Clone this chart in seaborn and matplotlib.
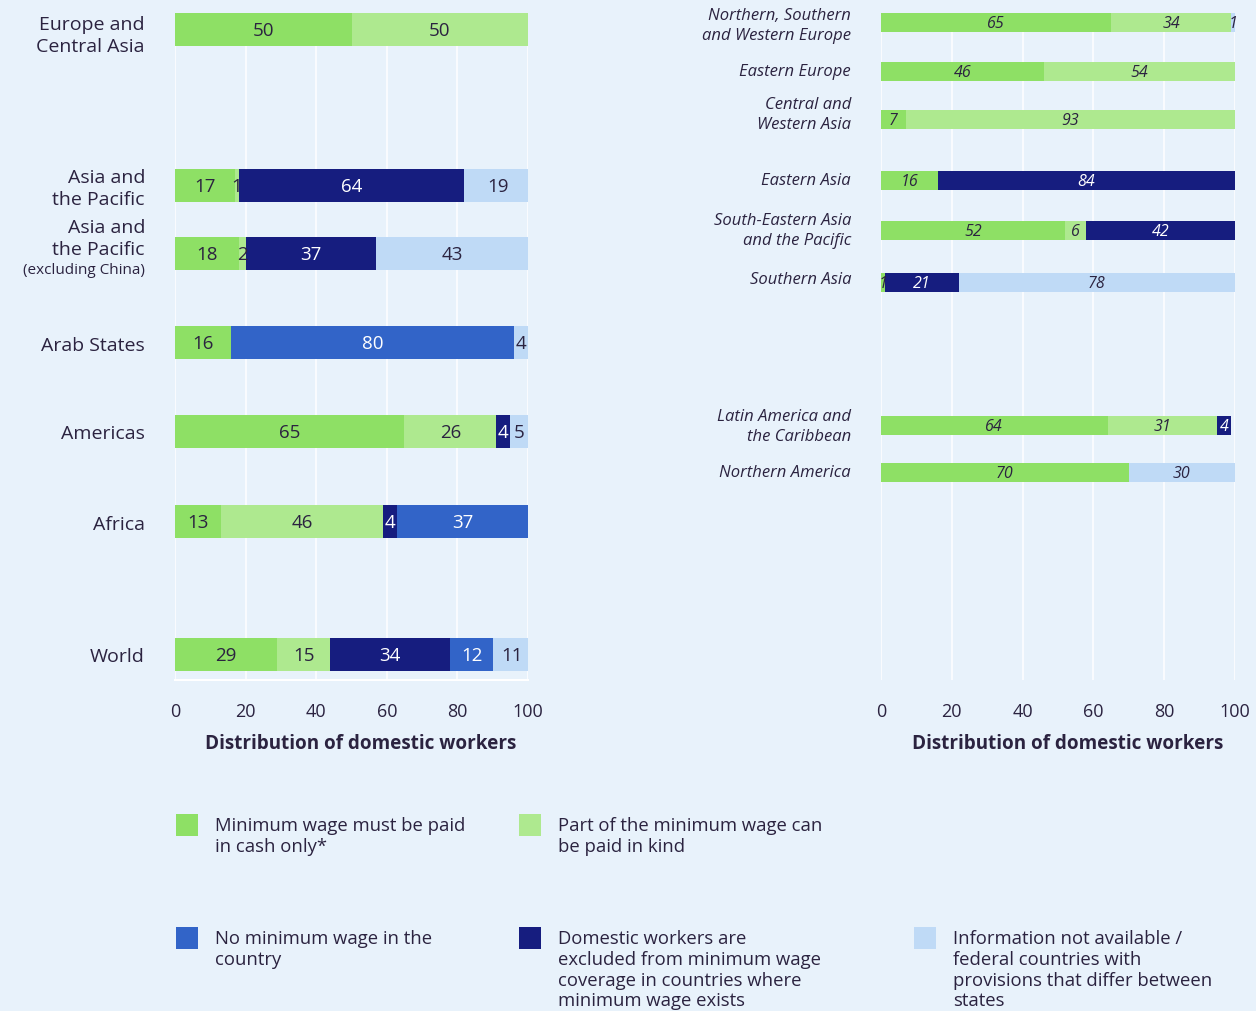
import numpy as np
import pandas as pd
import matplotlib.pyplot as plt
import matplotlib.transforms as mtransforms
from matplotlib.patches import Rectangle
import seaborn as sns

###############################################################################
# data

left_regions = ['Europe and\nCentral Asia', 'Asia and\nthe Pacific', 'Asia and\nthe Pacific',
                'Arab States', 'Americas', 'Africa', 'World']
left_cash_only      = [50, 17, 18, 16, 65, 13, 29]
left_in_kind        = [50,  1,  2,  0, 26, 46, 15]
left_excluded       = [ 0, 64, 37,  0,  4,  4, 34]
left_no_min_wage    = [ 0,  0,  0, 80,  0, 37, 12]
left_not_available  = [ 0, 19, 43,  4,  5,  0, 11]

right_regions = ['Northern, Southern\nand Western Europe', 'Eastern Europe', 'Central and\nWestern Asia',
                 'Eastern Asia', 'South-Eastern Asia\nand the Pacific', 'Southern Asia',
                 'Latin America and\nthe Caribbean', 'Northern America']
right_cash_only     = [65, 46,  7, 16, 52,  1, 64, 70]
right_in_kind       = [34, 54, 93,  0,  6,  0, 31,  0]
right_excluded      = [ 0,  0,  0, 84, 42, 21,  4,  0]
right_no_min_wage   = [ 0,  0,  0,  0,  0,  0,  0,  0]
right_not_available = [ 1,  0,  0,  0,  0, 78,  0, 30]

legend_labels = ['Minimum wage must be paid\nin cash only*',
                 'Part of the minimum wage can\nbe paid in kind',
                 'No minimum wage in the\ncountry',
                 'Domestic workers are\nexcluded from minimum wage\ncoverage in countries where\nminimum wage exists',
                 'Information not available /\nfederal countries with\nprovisions that differ between\nstates']

x_ticks = [0, 20, 40, 60, 80, 100]
x_label = 'Distribution of domestic workers'

###############################################################################
# style / layout

BG = '#E8F2FB'
TEXT = '#2B2340'
COLORS = ['#8EE065', '#AEE98F', '#161D7F', '#3264C8', '#BFDAF6']
LABEL_ON = [TEXT, TEXT, 'white', 'white', TEXT]

W, H = 1256, 1012
AX_TOP, AX_BOTTOM = 14, 681
left_rows = [30, 186, 254, 343, 432, 522, 655]
left_label_dy = [6, 3, 0, 3, 2, 3, 2]
right_rows = [23, 72, 120, 181, 231, 283, 426, 473]
right_label_dy = [3, 0, -5, 0, 0, -3, 1, 0]

sns.set_theme(style='white')
plt.rcParams['font.family'] = ['Open Sans', 'Noto Sans', 'DejaVu Sans']
plt.rcParams['text.color'] = TEXT


def draw_panel(ax, rows, label_dy, regions, series, bar_px, value_size, label_size, style):
    gap = np.diff(sorted(rows)).min()
    cum = np.cumsum(np.array(series), axis=0)
    # overlay cumulative totals, widest first
    for i in range(len(series) - 1, -1, -1):
        df = pd.DataFrame({'pos': rows, 'cum': cum[i]})
        sns.barplot(data=df, x='cum', y='pos', orient='y', native_scale=True,
                    width=bar_px / gap, color=COLORS[i], saturation=1,
                    linewidth=0, errorbar=None, ax=ax)
    for i, vals in enumerate(series):
        for r, v, c in zip(rows, vals, cum[i]):
            if v > 0:
                ax.text(c - v / 2, r + 1.5, str(v), ha='center', va='center',
                        fontsize=value_size, style=style, color=LABEL_ON[i])
    tr = mtransforms.offset_copy(ax.get_yaxis_transform(), fig=ax.figure, x=-30, y=0, units='dots')
    for r, dy, name in zip(rows, label_dy, regions):
        ax.text(0, r + dy, name, transform=tr, ha='right', va='center',
                fontsize=label_size, style=style, color=TEXT, linespacing=1.3)

    ax.set_facecolor(BG)
    ax.set_xlim(0, 100)
    ax.set_ylim(AX_BOTTOM, AX_TOP)
    ax.set_yticks([])
    ax.set_ylabel('')
    ax.set_xticks(x_ticks)
    ax.set_xticklabels([str(t) for t in x_ticks], fontsize=13, color=TEXT)
    ax.tick_params(axis='x', length=0, pad=16)
    ax.set_xlabel(x_label, fontsize=13.6, fontweight='bold', color=TEXT, labelpad=9, x=0.527)
    ax.grid(axis='x', color='white', linewidth=1.1)
    ax.grid(axis='y', visible=False)
    ax.set_axisbelow(True)
    for s in ['top', 'right', 'left', 'bottom']:
        ax.spines[s].set_visible(False)


fig = plt.figure(figsize=(W / 100, H / 100), dpi=100, facecolor=BG)

def frac_box(x0, x1):
    return [x0 / W, 1 - AX_BOTTOM / H, (x1 - x0) / W, (AX_BOTTOM - AX_TOP) / H]

ax_left = fig.add_axes(frac_box(175, 528))
ax_right = fig.add_axes(frac_box(881, 1235))

left_labels = list(left_regions)
left_labels[2] = ''
draw_panel(ax_left, left_rows, left_label_dy,
           left_labels,
           [left_cash_only, left_in_kind, left_excluded, left_no_min_wage, left_not_available],
           33, 13.5, 14, 'normal')
# left panel keeps a white baseline
ax_left.spines['bottom'].set_visible(True)
ax_left.spines['bottom'].set_color('white')
ax_left.spines['bottom'].set_linewidth(1.5)
# third Asia row has a smaller note line
tr = mtransforms.offset_copy(ax_left.get_yaxis_transform(), fig=fig, x=-30, y=0, units='dots')
ax_left.text(0, left_rows[2] - 15, left_regions[2], transform=tr, ha='right', va='center',
             fontsize=14, color=TEXT, linespacing=1.3)
ax_left.text(0, left_rows[2] + 17, '(excluding China)', transform=tr, ha='right', va='center',
             fontsize=11, color=TEXT)

draw_panel(ax_right, right_rows, right_label_dy, right_regions,
           [right_cash_only, right_in_kind, right_excluded, right_no_min_wage, right_not_available],
           19, 11.5, 12, 'italic')

# legend
legend_slots = [(176, 815, 0), (519, 815, 1), (176, 928, 3), (519, 928, 2), (914, 928, 4)]
for (lx, ly, ci), text in zip(legend_slots, legend_labels):
    fig.add_artist(Rectangle((lx / W, 1 - (ly + 22) / H), 22 / W, 22 / H,
                             transform=fig.transFigure, color=COLORS[ci], lw=0))
    fig.text((lx + 39) / W, 1 - (ly + 2) / H, text, ha='left', va='top',
             fontsize=13.3, color=TEXT, linespacing=1.2)

fig.savefig('out.png', dpi=100, facecolor=BG)
